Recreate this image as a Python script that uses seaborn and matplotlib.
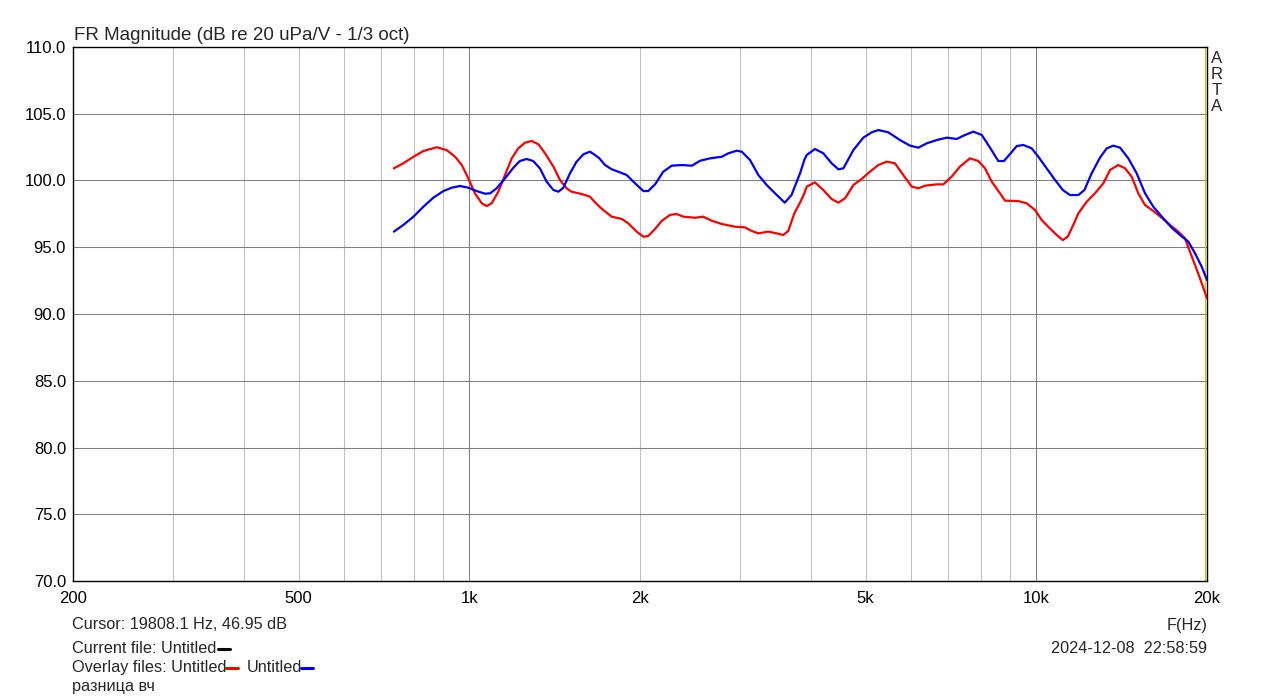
import numpy as np
import pandas as pd
import matplotlib
matplotlib.use("Agg")
import matplotlib.pyplot as plt
from matplotlib.lines import Line2D
import seaborn as sns

# ---- data ----
red_freq = [736, 765, 797, 830, 876, 912, 944, 970, 996, 1023, 1052, 1073, 1095, 1125, 1156, 1188,
            1220, 1254, 1288, 1324, 1360, 1407, 1445, 1485, 1515, 1578, 1632, 1666, 1696, 1723,
            1783, 1857, 1907, 1973, 2028, 2068, 2126, 2184, 2259, 2320, 2386, 2500, 2585, 2676,
            2788, 2942, 3063, 3148, 3234, 3367, 3484, 3578, 3652, 3743, 3831, 3898, 3936, 4070,
            4210, 4355, 4476, 4600, 4757, 4918, 5088, 5265, 5447, 5633, 5826, 6030, 6195, 6362,
            6672, 6855, 7090, 7333, 7638, 7903, 8120, 8344, 8629, 8806, 9294, 9616, 9948, 10220,
            10562, 10864, 11135, 11360, 11620, 11860, 12270, 12690, 13130, 13490, 13950, 14340,
            14730, 15130, 15550, 16080, 16640, 17210, 17800, 18290, 18660, 19050, 19440, 20000]
red_db = [100.91, 101.29, 101.78, 102.21, 102.49, 102.28, 101.78, 101.16, 100.16, 99.04, 98.29,
          98.09, 98.29, 99.16, 100.41, 101.66, 102.41, 102.83, 102.96, 102.71, 102.04, 101.04,
          100.04, 99.41, 99.16, 98.99, 98.79, 98.37, 98.04, 97.79, 97.29, 97.12, 96.79, 96.17,
          95.79, 95.84, 96.37, 96.97, 97.42, 97.49, 97.29, 97.21, 97.29, 96.99, 96.74, 96.54,
          96.49, 96.22, 96.04, 96.17, 96.04, 95.92, 96.22, 97.54, 98.35, 99.04, 99.54, 99.86,
          99.29, 98.61, 98.34, 98.67, 99.66, 100.11, 100.66, 101.16, 101.41, 101.29, 100.41,
          99.54, 99.42, 99.61, 99.71, 99.71, 100.29, 101.04, 101.66, 101.46, 100.91, 99.91,
          99.04, 98.49, 98.46, 98.29, 97.79, 97.04, 96.42, 95.92, 95.54, 95.79, 96.67, 97.54,
          98.41, 99.04, 99.79, 100.79, 101.16, 100.91, 100.29, 99.04, 98.16, 97.72, 97.21,
          96.67, 96.17, 95.67, 94.67, 93.67, 92.67, 91.18]

blue_freq = [736, 765, 797, 830, 864, 900, 931, 963, 996, 1030, 1066, 1088, 1117, 1156, 1196, 1228,
             1262, 1296, 1332, 1369, 1407, 1436, 1465, 1505, 1546, 1589, 1632, 1666, 1696, 1735,
             1783, 1844, 1895, 1960, 2028, 2068, 2126, 2198, 2275, 2370, 2469, 2553, 2659, 2788,
             2864, 2962, 3023, 3126, 3234, 3346, 3461, 3600, 3700, 3800, 3831, 3898, 3936, 4070,
             4210, 4355, 4476, 4568, 4757, 4953, 5124, 5265, 5483, 5748, 5989, 6195, 6412, 6672,
             6949, 7237, 7486, 7743, 8013, 8300, 8569, 8770, 8956, 9235, 9485, 9812, 10083,
             10428, 10790, 11135, 11467, 11860, 12160, 12520, 12950, 13310, 13670, 14050, 14530,
             15030, 15550, 16080, 16650, 17330, 17920, 18540, 19050, 19570, 20000]
blue_db = [96.17, 96.67, 97.29, 98.04, 98.71, 99.21, 99.46, 99.59, 99.46, 99.21, 99.01, 99.04,
           99.41, 100.16, 100.96, 101.46, 101.61, 101.46, 100.91, 99.91, 99.29, 99.16, 99.46,
           100.54, 101.41, 101.96, 102.16, 101.91, 101.66, 101.16, 100.84, 100.61, 100.41, 99.79,
           99.21, 99.21, 99.71, 100.66, 101.11, 101.16, 101.11, 101.48, 101.66, 101.78, 102.04,
           102.23, 102.16, 101.54, 100.41, 99.66, 99.04, 98.34, 98.91, 100.16, 100.54, 101.54,
           101.91, 102.36, 102.04, 101.29, 100.84, 100.91, 102.28, 103.21, 103.61, 103.78,
           103.61, 103.03, 102.61, 102.46, 102.79, 103.03, 103.21, 103.11, 103.41, 103.66,
           103.41, 102.41, 101.46, 101.46, 101.91, 102.58, 102.66, 102.41, 101.78, 100.91,
           100.04, 99.29, 98.91, 98.91, 99.29, 100.54, 101.71, 102.41, 102.61, 102.46, 101.66,
           100.54, 99.04, 98.04, 97.29, 96.46, 95.92, 95.42, 94.55, 93.55, 92.55]

x_ticks = [200, 500, 1000, 2000, 5000, 10000, 20000]
x_tick_labels = ["200", "500", "1k", "2k", "5k", "10k", "20k"]
y_ticks = [70, 75, 80, 85, 90, 95, 100, 105, 110]
y_tick_labels = ["70.0", "75.0", "80.0", "85.0", "90.0", "95.0", "100.0", "105.0", "110.0"]
minor_grid = [300, 400, 500, 600, 700, 800, 900, 2000, 3000, 4000, 5000, 6000, 7000, 8000, 9000]
major_grid = [1000, 10000]
cursor_freq = 19808.1

df = pd.concat([
    pd.DataFrame({"f": red_freq, "db": red_db, "s": "red"}),
    pd.DataFrame({"f": blue_freq, "db": blue_db, "s": "blue"}),
])

sns.set_style("white")
plt.rcParams["font.family"] = ["Liberation Sans", "DejaVu Sans"]

W, H = 1279, 699
fig = plt.figure(figsize=(W / 100, H / 100), dpi=100)
ax = fig.add_axes([73 / W, 1 - 581 / H, (1207 - 73) / W, (581 - 47) / H])

ax.set_xscale("log")
for g in minor_grid:
    ax.axvline(g, color="#c0c0c0", lw=0.75, zorder=0)
for g in major_grid:
    ax.axvline(g, color="#808080", lw=0.75, zorder=0)
for yv in y_ticks[1:-1]:
    ax.axhline(yv, color="#808080", lw=0.75, zorder=0)
ax.axvline(cursor_freq, color="#c8c800", lw=0.8, zorder=1)

sns.lineplot(data=df, x="f", y="db", hue="s", palette={"red": "#ff0000", "blue": "#0000ff"},
             sort=False, estimator=None, lw=1.6, legend=False, ax=ax, zorder=3)

ax.set_xlim(200, 20000)
ax.set_ylim(70, 110)
ax.set_xticks(x_ticks)
ax.set_xticklabels(x_tick_labels)
ax.xaxis.set_minor_locator(matplotlib.ticker.NullLocator())
ax.set_yticks(y_ticks)
ax.set_yticklabels(y_tick_labels)
ax.tick_params(axis="both", length=0, labelsize=12, colors="black")
ax.tick_params(axis="x", pad=7.5)
ax.tick_params(axis="y", pad=5)
ax.set_xlabel("")
ax.set_ylabel("")
for sp in ax.spines.values():
    sp.set_color("black")
    sp.set_linewidth(1.0)


def ftext(x, y, s, **kw):
    fig.text(x / W, 1 - y / H, s, fontsize=kw.pop("fontsize", 11.7), va=kw.pop("va", "baseline"), **kw)


ftext(74, 39.5, "FR Magnitude (dB re 20 uPa/V - 1/3 oct)", fontsize=13.5)
for i, ch in enumerate("ARTA"):
    ftext(1217, 63 + i * 16, ch, ha="center", fontsize=12)

ftext(72, 629, "Cursor: 19808.1 Hz, 46.95 dB")
ftext(72, 653, "Current file: Untitled")
ftext(72, 672, "Overlay files: Untitled")
ftext(246.5, 672, "Untitled")
ftext(72, 691, "разница вч")
ftext(1207, 630, "F(Hz)", ha="right")
ftext(1207, 653, "2024-12-08  22:58:59", ha="right")


def dash(x0, x1, y, color):
    fig.add_artist(Line2D([x0 / W, x1 / W], [1 - y / H, 1 - y / H], color=color, lw=2.2,
                          transform=fig.transFigure))


dash(218, 230, 649, "black")
dash(226, 238, 668, "#ff0000")
dash(301, 313, 668, "#0000ff")

fig.savefig("out.png", dpi=100, facecolor="white")
